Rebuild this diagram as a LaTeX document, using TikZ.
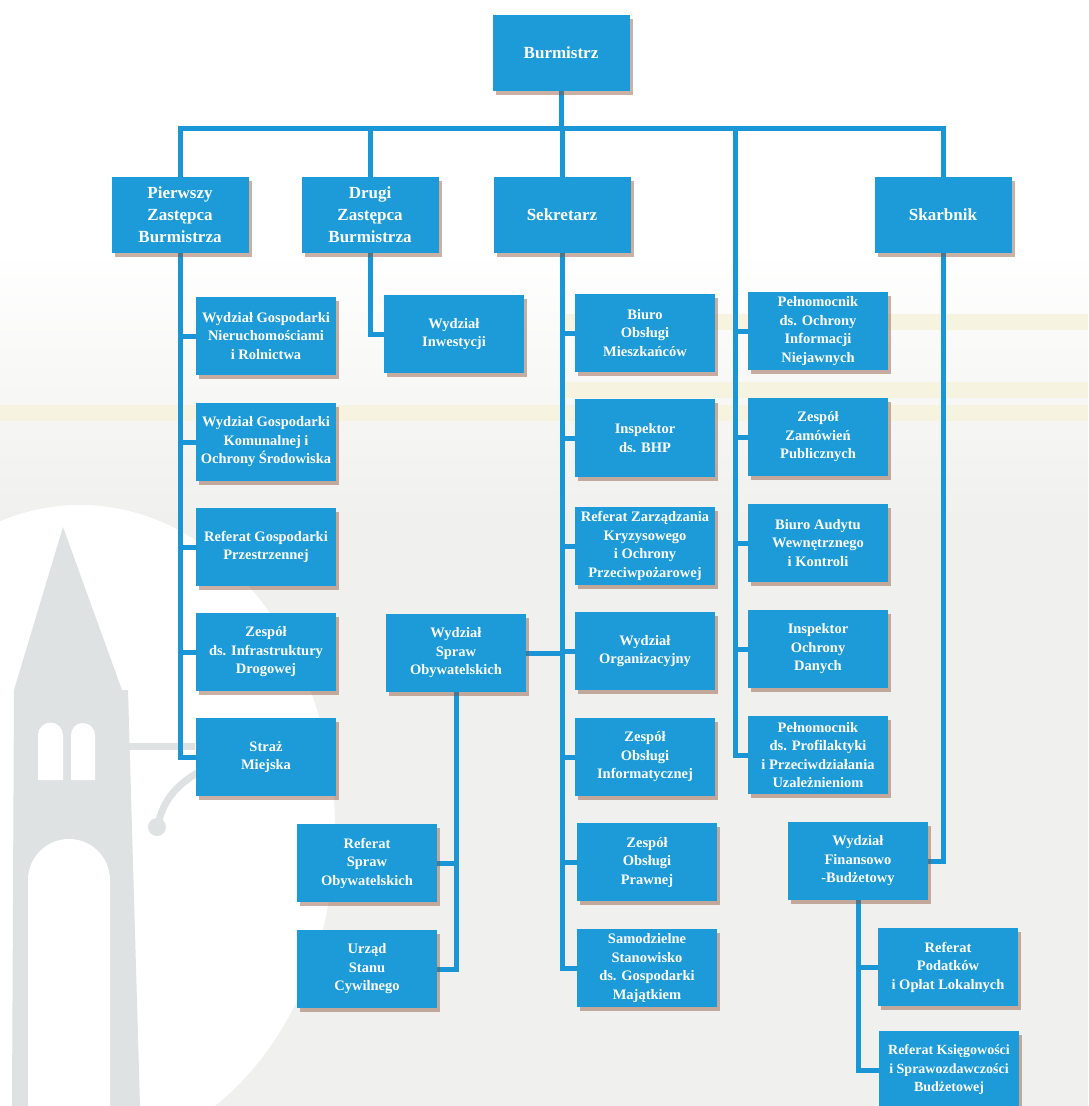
\documentclass[tikz,border=0pt]{standalone}
\usepackage{fontspec}
\setmainfont{Liberation Serif}
\usetikzlibrary{shadows}

\definecolor{boxblue}{HTML}{1C9BD8}
\definecolor{lineblue}{HTML}{1A96D6}
\definecolor{towergrey}{HTML}{DEE2E3}
\definecolor{paper}{HTML}{F0F0EE}
\definecolor{shadowbrown}{HTML}{8A5038}
\definecolor{marker}{HTML}{F6F4E0}

\pgfdeclarelayer{paperlayer}
\pgfdeclarelayer{linelayer}
\pgfsetlayers{paperlayer,linelayer,main}

\tikzset{
  unit/.style={rectangle, fill=boxblue, text=white, align=center,
    font=\bfseries\fontsize{14.5}{18.5}\selectfont,
    minimum width=140pt, minimum height=78pt, inner sep=1pt,
    drop shadow={shadow xshift=3pt, shadow yshift=-4pt, fill=shadowbrown, opacity=0.45}},
  head/.style={unit, font=\bfseries\fontsize{17}{22}\selectfont,
    minimum width=137pt, minimum height=76pt},
  link/.style={draw=lineblue, line width=5pt, line cap=rect, line join=miter}
}

\begin{document}
\begin{tikzpicture}[x=1pt,y=1pt]
\useasboundingbox (0,0) rectangle (1088,-1106);

% ---- paper, watermark tower ----
\begin{pgfonlayer}{paperlayer}
  \fill[paper] (0,-520) rectangle (1088,-1106);
  \shade[top color=white, bottom color=paper] (0,-250) rectangle (1088,-520);
  \fill[white] (0,0) rectangle (1088,-250);
  \fill[white] (80,-830) ellipse [x radius=255, y radius=325];
  \fill[marker] (560,-314) rectangle (1088,-330);
  \fill[marker] (560,-382) rectangle (1088,-398);
  \fill[marker] (0,-405) rectangle (1088,-421);
  % tower silhouette
  \fill[towergrey] (63,-527) -- (122,-690) -- (128,-690) -- (140,-1106)
        -- (12,-1106) -- (14,-690) -- cycle;
  \fill[white] (38,-780) -- (38,-735) arc[start angle=180, end angle=0, radius=12.5]
        -- (63,-780) -- cycle;
  \fill[white] (71,-780) -- (71,-735) arc[start angle=180, end angle=0, radius=12]
        -- (95,-780) -- cycle;
  \fill[white] (28,-1106) -- (28,-880) arc[start angle=180, end angle=0, radius=41]
        -- (110,-1106) -- cycle;
  \fill[towergrey] (127,-743) rectangle (195,-750);
  \draw[towergrey, line width=7pt] (158,-826) .. controls (165,-780) and (215,-752) .. (305,-748);
  \fill[towergrey] (157,-827) circle (9);
\end{pgfonlayer}

% ---- level 1 and 2 ----
\node[head] (burm) at (561,-53)  {Burmistrz};
\node[head] (p1)   at (180,-215) {Pierwszy\\Zastępca\\Burmistrza};
\node[head] (dz)   at (370,-215) {Drugi\\Zastępca\\Burmistrza};
\node[head] (sek)  at (562,-215) {Sekretarz};
\node[head] (skb)  at (943,-215) {Skarbnik};
\coordinate (bus)  at (0,-128);
\coordinate (dtop) at (735,-128);

% ---- first deputy ----
\node[unit] (wgn) at (266,-336) {Wydział Gospodarki\\Nieruchomościami\\i Rolnictwa};
\node[unit] (wgk) at (266,-442) {Wydział Gospodarki\\Komunalnej i\\Ochrony Środowiska};
\node[unit] (rgp) at (266,-547) {Referat Gospodarki\\Przestrzennej};
\node[unit] (zid) at (266,-652) {Zespół\\ds. Infrastruktury\\Drogowej};
\node[unit] (sm)  at (266,-757) {Straż\\Miejska};

% ---- second deputy ----
\node[unit] (win) at (454,-334) {Wydział\\Inwestycji};

% ---- secretary ----
\node[unit] (bom) at (645,-333) {Biuro\\Obsługi\\Mieszkańców};
\node[unit] (bhp) at (645,-438) {Inspektor\\ds. BHP};
\node[unit] (rzk) at (645,-546) {Referat Zarządzania\\Kryzysowego\\i Ochrony\\Przeciwpożarowej};
\node[unit] (wor) at (645,-651) {Wydział\\Organizacyjny};
\node[unit] (zoi) at (645,-757) {Zespół\\Obsługi\\Informatycznej};
\node[unit] (zop) at (647,-862) {Zespół\\Obsługi\\Prawnej};
\node[unit] (ssg) at (647,-968) {Samodzielne\\Stanowisko\\ds. Gospodarki\\Majątkiem};
\node[unit] (wso) at (456,-653) {Wydział\\Spraw\\Obywatelskich};
\node[unit] (rso) at (367,-863) {Referat\\Spraw\\Obywatelskich};
\node[unit] (usc) at (367,-969) {Urząd\\Stanu\\Cywilnego};

% ---- mayor's direct units ----
\node[unit] (poi) at (818,-331) {Pełnomocnik\\ds. Ochrony\\Informacji\\Niejawnych};
\node[unit] (zzp) at (818,-437) {Zespół\\Zamówień\\Publicznych};
\node[unit] (baw) at (818,-543) {Biuro Audytu\\Wewnętrznego\\i Kontroli};
\node[unit] (iod) at (818,-649) {Inspektor\\Ochrony\\Danych};
\node[unit] (ppu) at (818,-755) {Pełnomocnik\\ds. Profilaktyki\\i Przeciwdziałania\\Uzależnieniom};

% ---- treasurer ----
\node[unit] (wfb) at (858,-861)  {Wydział\\Finansowo\\-Budżetowy};
\node[unit] (rpo) at (948,-967)  {Referat\\Podatków\\i Opłat Lokalnych};
\node[unit, font=\bfseries\fontsize{14}{18.5}\selectfont] (rks) at (949,-1070)
  {Referat Księgowości\\i Sprawozdawczości\\Budżetowej};

% ---- connectors ----
\begin{pgfonlayer}{linelayer}
  \draw[link] (burm.south) -- (burm.south |- bus);
  \draw[link] (p1.north |- bus) -- (skb.north |- bus);
  \foreach \n in {p1,dz,sek,skb} \draw[link] (\n.north |- bus) -- (\n.north);

  \draw[link] (p1.south) -- (p1.south |- sm.west) -- (sm.west);
  \foreach \n in {wgn,wgk,rgp,zid} \draw[link] (p1.south |- \n.west) -- (\n.west);

  \draw[link] (dz.south) -- (dz.south |- win.west) -- (win.west);

  \draw[link] (sek.south) -- (sek.south |- ssg.west) -- (ssg.west);
  \foreach \n in {bom,bhp,rzk,wor,zoi,zop} \draw[link] (sek.south |- \n.west) -- (\n.west);
  \draw[link] (wso.east) -- (sek.south |- wso.east);
  \draw[link] (wso.south) -- (wso.south |- usc.east) -- (usc.east);
  \draw[link] (wso.south |- rso.east) -- (rso.east);

  \draw[link] (dtop) -- (dtop |- ppu.west) -- (ppu.west);
  \foreach \n in {poi,zzp,baw,iod} \draw[link] (dtop |- \n.west) -- (\n.west);

  \draw[link] (skb.south) -- (skb.south |- wfb.east) -- (wfb.east);
  \draw[link] (wfb.south) -- (wfb.south |- rks.west) -- (rks.west);
  \draw[link] (wfb.south |- rpo.west) -- (rpo.west);
\end{pgfonlayer}
\end{tikzpicture}
\end{document}
